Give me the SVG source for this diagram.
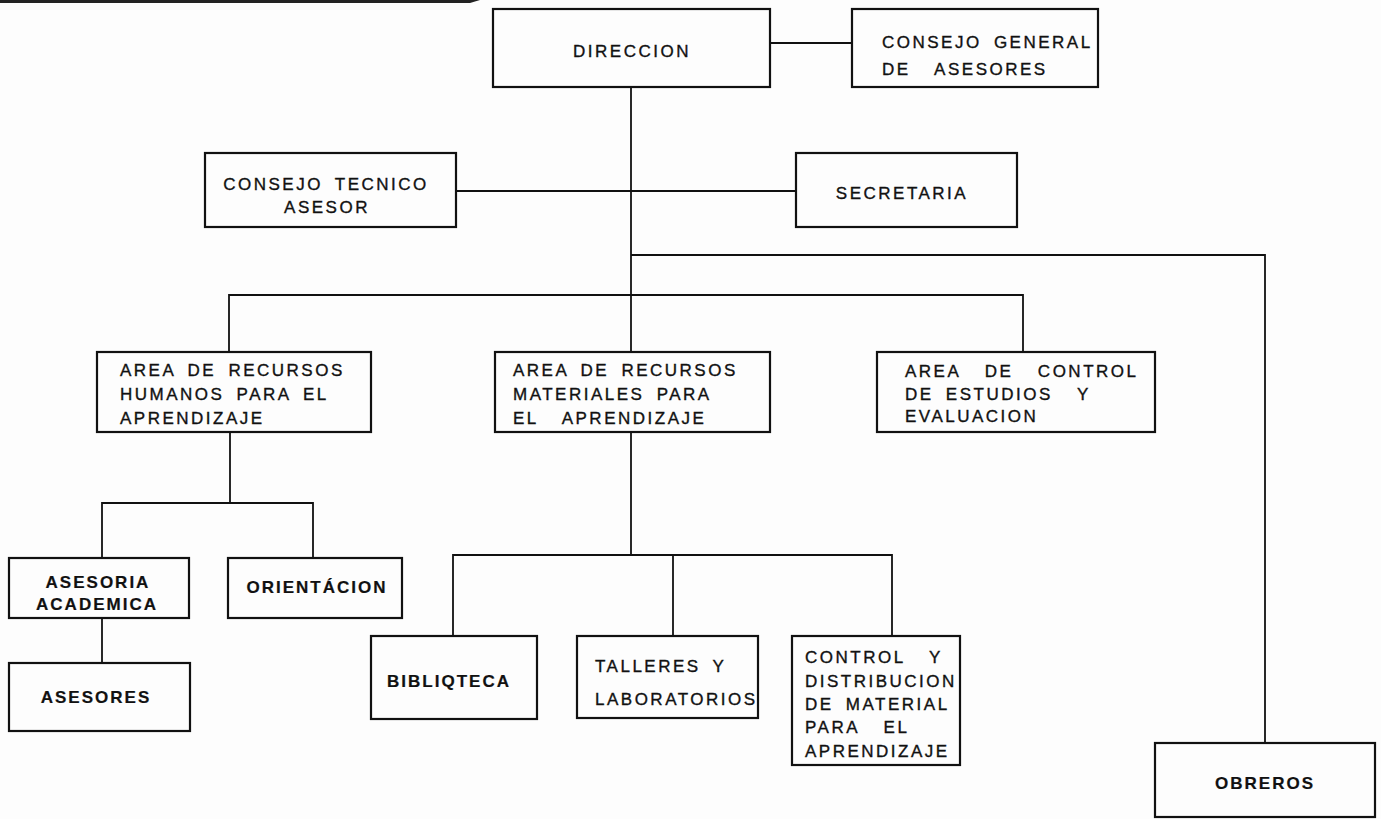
<svg xmlns="http://www.w3.org/2000/svg" width="1381" height="819" viewBox="0 0 1381 819">
<style>
.bg{fill:#fdfdfd}
.box{fill:none;stroke:#111;stroke-width:2.2}
.ln{fill:none;stroke:#111;stroke-width:1.8}
text{font-family:"Liberation Sans",Arial,sans-serif;font-size:17px;letter-spacing:2.5px;word-spacing:5px;fill:#111;stroke:#111;stroke-width:0.35}
.c{text-anchor:middle}
.b{font-weight:bold;letter-spacing:2px;stroke-width:0.2}
</style>
<rect class="bg" x="0" y="0" width="1381" height="819"/>
<path d="M0 0 H480 L470 3 H0 Z" fill="#222"/>
<g id="connectors">
<path class="ln" d="M770 43 H852"/>
<path class="ln" d="M631 87 V352"/>
<path class="ln" d="M456 191 H796"/>
<path class="ln" d="M631 255 H1265 V743"/>
<path class="ln" d="M229 352 V295 H1023 V352"/>
<path class="ln" d="M230 432 V503"/>
<path class="ln" d="M102 558 V503 H313 V558"/>
<path class="ln" d="M102 618 V663"/>
<path class="ln" d="M631 432 V555"/>
<path class="ln" d="M453 636 V555 H892 V636"/>
<path class="ln" d="M673 555 V636"/>
</g>
<g id="direccion">
<rect class="box" x="493" y="9" width="277" height="78"/>
<text class="c" x="632" y="57">DIRECCION</text>
</g>
<g id="consejo-general">
<rect class="box" x="852" y="9" width="246" height="78"/>
<text x="882" y="48">CONSEJO GENERAL</text>
<text x="882" y="75" xml:space="preserve">DE  ASESORES</text>
</g>
<g id="consejo-tecnico">
<rect class="box" x="205" y="153" width="251" height="74"/>
<text class="c" x="326" y="190">CONSEJO TECNICO</text>
<text class="c" x="327" y="213">ASESOR</text>
</g>
<g id="secretaria">
<rect class="box" x="796" y="153" width="221" height="74"/>
<text class="c" x="902" y="199">SECRETARIA</text>
</g>
<g id="area-rh">
<rect class="box" x="97" y="352" width="274" height="80"/>
<text x="120" y="376">AREA DE RECURSOS</text>
<text x="120" y="400">HUMANOS PARA EL</text>
<text x="120" y="424">APRENDIZAJE</text>
</g>
<g id="area-rm">
<rect class="box" x="495" y="352" width="275" height="80"/>
<text x="513" y="376">AREA DE RECURSOS</text>
<text x="513" y="400">MATERIALES PARA</text>
<text x="513" y="424" xml:space="preserve">EL  APRENDIZAJE</text>
</g>
<g id="area-control">
<rect class="box" x="877" y="352" width="278" height="80"/>
<text x="905" y="377" xml:space="preserve">AREA  DE  CONTROL</text>
<text x="905" y="400" xml:space="preserve">DE ESTUDIOS  Y</text>
<text x="905" y="422">EVALUACION</text>
</g>
<g id="asesoria-academica">
<rect class="box" x="9" y="558" width="180" height="60"/>
<text class="c b" x="98" y="588">ASESORIA</text>
<text class="c b" x="97" y="610">ACADEMICA</text>
</g>
<g id="orientacion">
<rect class="box" x="228" y="558" width="174" height="60"/>
<text class="c b" x="317" y="593">ORIENTÁCION</text>
</g>
<g id="asesores">
<rect class="box" x="9" y="663" width="181" height="68"/>
<text class="c b" x="96" y="703">ASESORES</text>
</g>
<g id="biblioteca">
<rect class="box" x="371" y="636" width="166" height="83"/>
<text class="c b" x="449" y="687">BIBLIQTECA</text>
</g>
<g id="talleres">
<rect class="box" x="577" y="636" width="181" height="82"/>
<text x="595" y="672">TALLERES Y</text>
<text x="595" y="705">LABORATORIOS</text>
</g>
<g id="control-distribucion">
<rect class="box" x="792" y="636" width="168" height="129"/>
<text x="805" y="663" xml:space="preserve">CONTROL  Y</text>
<text x="805" y="687">DISTRIBUCION</text>
<text x="805" y="710">DE MATERIAL</text>
<text x="805" y="733" xml:space="preserve">PARA  EL</text>
<text x="805" y="757">APRENDIZAJE</text>
</g>
<g id="obreros">
<rect class="box" x="1155" y="743" width="220" height="74"/>
<text class="c b" x="1265" y="789">OBREROS</text>
</g>
</svg>
